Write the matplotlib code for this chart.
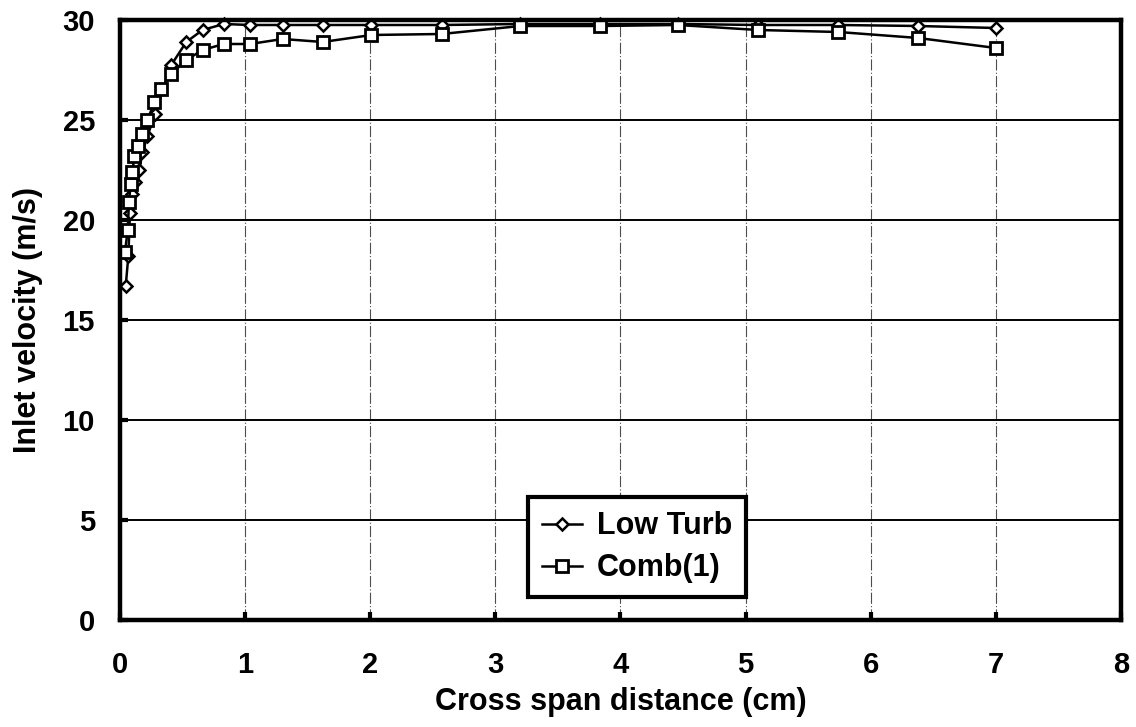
import matplotlib
matplotlib.use("Agg")
import matplotlib.pyplot as plt

# Data
low_x = [0.046, 0.067, 0.08, 0.099, 0.12, 0.155, 0.18, 0.22, 0.28, 0.41, 0.53, 0.66, 0.83,
         1.04, 1.30, 1.62, 2.01, 2.57, 3.20, 3.84, 4.46, 5.10, 5.74, 6.38, 7.0]
low_y = [16.7, 18.2, 20.35, 21.3, 21.9, 22.5, 23.4, 24.2, 25.3, 27.75, 28.9, 29.5, 29.8,
         29.75, 29.75, 29.75, 29.75, 29.75, 29.8, 29.8, 29.8, 29.75, 29.75, 29.7, 29.6]
comb_x = [0.04, 0.062, 0.072, 0.086, 0.10, 0.115, 0.147, 0.18, 0.22, 0.275, 0.33, 0.41, 0.53,
          0.66, 0.83, 1.04, 1.30, 1.62, 2.01, 2.57, 3.20, 3.84, 4.46, 5.10, 5.74, 6.38, 7.0]
comb_y = [18.4, 19.5, 20.9, 21.8, 22.4, 23.2, 23.7, 24.3, 25.0, 25.9, 26.55, 27.3, 28.0,
          28.5, 28.8, 28.8, 29.05, 28.9, 29.25, 29.3, 29.7, 29.7, 29.75, 29.5, 29.4, 29.1, 28.6]
x_ticks = [0, 1, 2, 3, 4, 5, 6, 7, 8]
y_ticks = [0, 5, 10, 15, 20, 25, 30]

plt.rcParams['font.family'] = ['Liberation Sans', 'DejaVu Sans']
plt.rcParams['font.weight'] = 'bold'

fig = plt.figure(figsize=(11.36, 7.27), dpi=100)
ax = fig.add_axes([0.1056, 0.1472, 0.8812, 0.8253])

ax.set_xlim(0, 8)
ax.set_ylim(0, 30)
ax.set_xticks(x_ticks)
ax.set_yticks(y_ticks)

for x in x_ticks[1:-1]:
    ax.axvline(x, color='0.3', lw=0.8, ls=(0, (10, 2, 1, 2)), zorder=1)
for y in y_ticks[1:-1]:
    ax.axhline(y, color='black', lw=1.4, zorder=1)

ax.plot(low_x, low_y, color='black', lw=1.8, marker='D', markersize=6,
        markerfacecolor='white', markeredgecolor='black', markeredgewidth=1.8,
        label='Low Turb', zorder=3, clip_on=False)
ax.plot(comb_x, comb_y, color='black', lw=1.8, marker='s', markersize=9,
        markerfacecolor='white', markeredgecolor='black', markeredgewidth=2,
        label='Comb(1)', zorder=4, clip_on=False)

for s in ax.spines.values():
    s.set_linewidth(3.2)
    s.set_zorder(5)

ax.tick_params(direction='in', length=6, width=3, labelsize=21)
ax.tick_params(axis='x', pad=22)
ax.tick_params(axis='y', pad=18)
for lab in ax.get_xticklabels() + ax.get_yticklabels():
    lab.set_fontweight('bold')

ax.set_xlabel('Cross span distance (cm)', fontsize=22, fontweight='bold', labelpad=6)
ax.set_ylabel('Inlet velocity (m/s)', fontsize=22, fontweight='bold', labelpad=14)

leg = ax.legend(loc='lower left', bbox_to_anchor=(0.408, 0.038), fontsize=22,
                frameon=True, fancybox=False, edgecolor='black', framealpha=1,
                handlelength=1.3, handletextpad=0.5, borderpad=0.45, labelspacing=0.4,
                borderaxespad=0)
leg.get_frame().set_linewidth(3)
leg.set_zorder(6)
for t in leg.get_texts():
    t.set_fontweight('bold')

fig.savefig('out.png', dpi=100)
